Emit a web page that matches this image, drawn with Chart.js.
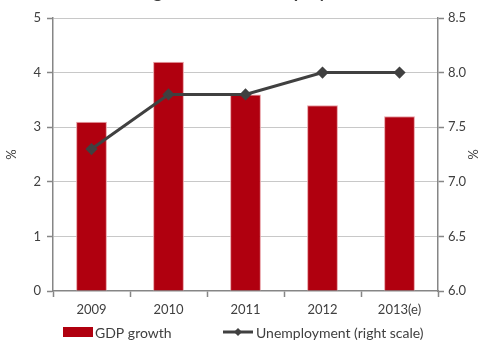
<!DOCTYPE html>
<html>
<head>
<meta charset="utf-8">
<script src="https://cdn.jsdelivr.net/npm/chart.js@4.4.1/dist/chart.umd.min.js"></script>
<style>
  html, body { margin: 0; padding: 0; background: #fff; }
  #wrap { position: relative; width: 480px; height: 344px; overflow: hidden; }
  #myChart { position: absolute; left: 0; top: -19px; }
</style>
</head>
<body>
<div id="wrap"><canvas id="myChart" width="480" height="363"></canvas></div>
<script>
var years = ['2009', '2010', '2011', '2012', '2013(e)'];
var gdpGrowth = [3.1, 4.2, 3.6, 3.4, 3.2];
var unemployment = [7.3, 7.8, 7.8, 8.0, 8.0];

var FONT = 'Lato, "Open Sans", sans-serif';
var TXT = '#404040';
var AXIS = '#868686';

// legend drawn by hand so the line entry gets its diamond marker
var bottomLegend = {
    id: 'bottomLegend',
    afterDraw: function (chart) {
        var c = chart.ctx;
        var y = 351;
        c.save();
        c.fillStyle = '#B0000F';
        c.fillRect(63, y - 5, 30, 10);
        c.strokeStyle = '#404040';
        c.lineWidth = 3;
        c.beginPath();
        c.moveTo(223, y);
        c.lineTo(253, y);
        c.stroke();
        c.fillStyle = '#404040';
        c.beginPath();
        c.moveTo(238, y - 4);
        c.lineTo(242, y);
        c.lineTo(238, y + 4);
        c.lineTo(234, y);
        c.closePath();
        c.fill();
        c.font = '14px ' + FONT;
        c.fillStyle = TXT;
        c.textBaseline = 'middle';
        c.fillText('GDP growth', 95, y + 1);
        c.fillText('Unemployment (right scale)', 256, y + 1);
        c.restore();
    }
};

var ctx = document.getElementById('myChart').getContext('2d');
var myChart = new Chart(ctx, {
    data: {
        labels: years,
        datasets: [{
            type: 'line',
            label: 'Unemployment (right scale)',
            data: unemployment,
            yAxisID: 'y2',
            borderColor: '#404040',
            backgroundColor: '#404040',
            borderWidth: 3,
            pointStyle: 'rectRot',
            pointRadius: 4,
            pointHoverRadius: 4,
            tension: 0,
            order: 0
        }, {
            type: 'bar',
            label: 'GDP growth',
            data: gdpGrowth,
            yAxisID: 'y',
            backgroundColor: '#B0000F',
            borderColor: '#E8A0A6',
            borderWidth: { top: 1, left: 1, right: 1, bottom: 0 },
            categoryPercentage: 1,
            barPercentage: 0.4,
            order: 1
        }]
    },
    options: {
        responsive: false,
        animation: false,
        layout: { padding: 0 },
        plugins: {
            legend: { display: false },
            tooltip: { enabled: false },
            title: {
                display: true,
                text: 'GDP growth and unemployment',
                color: TXT,
                font: { family: FONT, size: 18, weight: 'bold', lineHeight: 1.2 },
                padding: { top: 0, bottom: 15.4 }
            }
        },
        scales: {
            x: {
                offset: true,
                afterFit: function (s) { s.height = 53; },
                grid: {
                    offset: true,
                    drawOnChartArea: false,
                    tickLength: 6,
                    tickColor: AXIS,
                    tickWidth: 1.5
                },
                border: { color: AXIS, width: 1.5 },
                ticks: { color: TXT, font: { family: FONT, size: 13 }, padding: 5 }
            },
            y: {
                position: 'left',
                min: 0,
                max: 5,
                afterFit: function (s) { s.width = 53; },
                ticks: { stepSize: 1, color: TXT, font: { family: FONT, size: 13 }, padding: 6 },
                grid: {
                    color: function (c) { return c.tick.value === 0 ? 'rgba(0,0,0,0)' : '#C8C8C8'; },
                    borderDash: [1, 2],
                    tickLength: 6,
                    tickColor: AXIS,
                    tickWidth: 1.5,
                    tickBorderDash: []
                },
                border: { color: AXIS, width: 1.5 },
                title: { display: true, text: '%', color: TXT, font: { family: FONT, size: 13 }, padding: 4 }
            },
            y2: {
                position: 'right',
                min: 6,
                max: 8.5,
                afterFit: function (s) { s.width = 42; },
                ticks: {
                    stepSize: 0.5,
                    color: TXT,
                    font: { family: FONT, size: 13 },
                    padding: 4,
                    callback: function (v) { return v.toFixed(1); }
                },
                grid: {
                    drawOnChartArea: false,
                    tickLength: 6,
                    tickColor: AXIS,
                    tickWidth: 1.5
                },
                border: { color: AXIS, width: 1.5 },
                title: { display: true, text: '%', color: TXT, font: { family: FONT, size: 13 }, padding: 0 }
            }
        }
    },
    plugins: [bottomLegend]
});
</script>
</body>
</html>
